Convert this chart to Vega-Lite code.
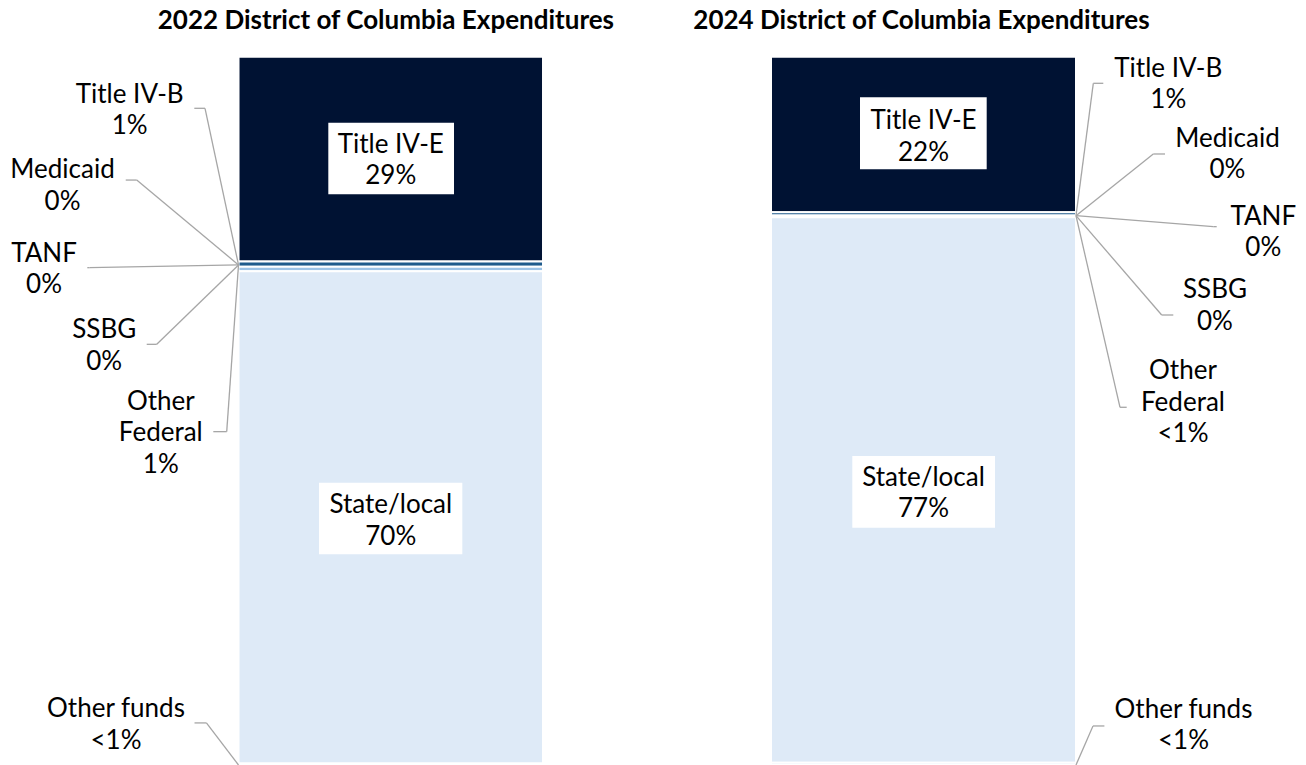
{
  "$schema": "https://vega.github.io/schema/vega-lite/v6.json",
  "padding": 0,
  "spacing": 0,
  "background": "white",
  "config": {"view": {"stroke": null}, "font": "Lato"},
  "datasets": {
    "segments": [
      {"year": "2022", "source": "Title IV-E", "rank": 8, "share": 0.289},
      {"year": "2022", "source": "Title IV-B", "rank": 7, "share": 0.0075},
      {"year": "2022", "source": "Medicaid", "rank": 6, "share": 0},
      {"year": "2022", "source": "TANF", "rank": 5, "share": 0},
      {"year": "2022", "source": "SSBG", "rank": 4, "share": 0},
      {"year": "2022", "source": "Other Federal", "rank": 3, "share": 0.0065},
      {"year": "2022", "source": "State/local", "rank": 2, "share": 0.695},
      {"year": "2022", "source": "Other funds", "rank": 1, "share": 0.002},
      {"year": "2024", "source": "Title IV-E", "rank": 8, "share": 0.2195},
      {"year": "2024", "source": "Title IV-B", "rank": 7, "share": 0.0048},
      {"year": "2024", "source": "Medicaid", "rank": 6, "share": 0},
      {"year": "2024", "source": "TANF", "rank": 5, "share": 0},
      {"year": "2024", "source": "SSBG", "rank": 4, "share": 0},
      {"year": "2024", "source": "Other Federal", "rank": 3, "share": 0.0025},
      {"year": "2024", "source": "State/local", "rank": 2, "share": 0.77},
      {"year": "2024", "source": "Other funds", "rank": 1, "share": 0.0032}
    ],
    "labels": [
      {"year": "2022", "txt": "Title IV-B\n1%", "ax": -0.3573, "ay": 0.935},
      {"year": "2022", "txt": "Medicaid\n0%", "ax": -0.578, "ay": 0.8283},
      {"year": "2022", "txt": "TANF\n0%", "ax": -0.6388, "ay": 0.7105},
      {"year": "2022", "txt": "SSBG\n0%", "ax": -0.4411, "ay": 0.6024},
      {"year": "2022", "txt": "Other\nFederal\n1%", "ax": -0.2552, "ay": 0.5012},
      {"year": "2022", "txt": "Other funds\n<1%", "ax": -0.4023, "ay": 0.0671},
      {"year": "2022", "txt": "Title IV-E\n29%", "ax": 0.5, "ay": 0.8644},
      {"year": "2022", "txt": "State/local\n70%", "ax": 0.5, "ay": 0.3553},
      {"year": "2024", "txt": "Title IV-B\n1%", "ax": 1.3026, "ay": 0.9717},
      {"year": "2024", "txt": "Medicaid\n0%", "ax": 1.4967, "ay": 0.8729},
      {"year": "2024", "txt": "TANF\n0%", "ax": 1.6141, "ay": 0.7624},
      {"year": "2024", "txt": "SSBG\n0%", "ax": 1.4557, "ay": 0.6589},
      {"year": "2024", "txt": "Other\nFederal\n<1%", "ax": 1.3508, "ay": 0.5449},
      {"year": "2024", "txt": "Other funds\n<1%", "ax": 1.3525, "ay": 0.0664},
      {"year": "2024", "txt": "Title IV-E\n22%", "ax": 0.5, "ay": 0.8975},
      {"year": "2024", "txt": "State/local\n77%", "ax": 0.5, "ay": 0.3939}
    ],
    "titles": [
      {"year": "2022", "txt": "2022 District of Columbia Expenditures", "ax": 0.484, "ay": 1.0386},
      {"year": "2024", "txt": "2024 District of Columbia Expenditures", "ax": 0.4934, "ay": 1.0386}
    ],
    "leaders": [
      {"year": "2022", "lx0": -0.1452, "lx1": -0.11, "ly": 0.9271, "jx": 0, "jy": 0.706},
      {"year": "2022", "lx0": -0.3704, "lx1": -0.3343, "ly": 0.8258, "jx": 0, "jy": 0.706},
      {"year": "2022", "lx0": -0.4966, "lx1": -0.49, "ly": 0.7021, "jx": 0, "jy": 0.706},
      {"year": "2022", "lx0": -0.3015, "lx1": -0.2685, "ly": 0.5939, "jx": 0, "jy": 0.706},
      {"year": "2022", "lx0": -0.0828, "lx1": -0.0388, "ly": 0.4706, "jx": 0, "jy": 0.706},
      {"year": "2022", "lx0": -0.1445, "lx1": -0.1054, "ly": 0.0594, "jx": 0, "jy": 0},
      {"year": "2024", "lx0": 1.0895, "lx1": 1.0567, "ly": 0.9624, "jx": 1, "jy": 0.7755},
      {"year": "2024", "lx0": 1.2918, "lx1": 1.2534, "ly": 0.8626, "jx": 1, "jy": 0.7755},
      {"year": "2024", "lx0": 1.4613, "lx1": 1.45, "ly": 0.76, "jx": 1, "jy": 0.7755},
      {"year": "2024", "lx0": 1.319, "lx1": 1.281, "ly": 0.6353, "jx": 1, "jy": 0.7755},
      {"year": "2024", "lx0": 1.1662, "lx1": 1.1443, "ly": 0.505, "jx": 1, "jy": 0.7755},
      {"year": "2024", "lx0": 1.0931, "lx1": 1.0557, "ly": 0.0551, "jx": 1, "jy": 0}
    ],
    "boxes": [
      {"year": "2022", "bx0": 0.2949, "bx1": 0.7077, "by0": 0.8057, "by1": 0.9068},
      {"year": "2022", "bx0": 0.2644, "bx1": 0.735, "by0": 0.2975, "by1": 0.3985},
      {"year": "2024", "bx0": 0.2918, "bx1": 0.7072, "by0": 0.841, "by1": 0.9426},
      {"year": "2024", "bx0": 0.2666, "bx1": 0.7344, "by0": 0.335, "by1": 0.4362}
    ]
  },
  "hconcat": [
    {
      "width": 653,
      "height": 765,
      "layer": [
        {
          "data": {"name": "segments"},
          "transform": [
            {"filter": "datum.year == '2022'"},
            {"stack": "share", "groupby": ["year"], "sort": [{"field": "rank", "order": "ascending"}], "as": ["s0", "s1"]},
            {"filter": "datum.share > 0"}
          ],
          "mark": {"type": "rect", "stroke": "white", "strokeWidth": 2},
          "encoding": {
            "x": {"datum": 0, "type": "quantitative", "scale": {"domain": [-0.7833, 1.3612], "nice": false, "zero": false}, "axis": null},
            "x2": {"datum": 1},
            "y": {"field": "s0", "type": "quantitative", "scale": {"domain": [0, 1.08], "nice": false, "zero": false}, "axis": null},
            "y2": {"field": "s1"},
            "color": {"field": "source", "type": "nominal", "legend": null,
              "scale": {"domain": ["Title IV-E", "Title IV-B", "Medicaid", "TANF", "SSBG", "Other Federal", "State/local", "Other funds"],
                        "range": ["#001233", "#1F5B8C", "#2E75B6", "#5B9BD5", "#7FAEDC", "#9DC3E6", "#DEEAF7", "#DEEAF7"]}}
          }
        },
        {
          "data": {"name": "boxes"},
          "transform": [{"filter": "datum.year == '2022'"}],
          "mark": {"type": "rect", "fill": "white"},
          "encoding": {
            "x": {"field": "bx0", "type": "quantitative", "scale": {"domain": [-0.7833, 1.3612], "nice": false, "zero": false}, "axis": null},
            "x2": {"field": "bx1"},
            "y": {"field": "by0", "type": "quantitative", "scale": {"domain": [0, 1.08], "nice": false, "zero": false}, "axis": null},
            "y2": {"field": "by1"}
          }
        },
        {
          "data": {"name": "leaders"},
          "transform": [{"filter": "datum.year == '2022'"}],
          "mark": {"type": "rule", "color": "#A6A6A6", "strokeWidth": 1.3},
          "encoding": {
            "x": {"field": "lx0", "type": "quantitative", "scale": {"domain": [-0.7833, 1.3612], "nice": false, "zero": false}, "axis": null},
            "x2": {"field": "lx1"},
            "y": {"field": "ly", "type": "quantitative", "scale": {"domain": [0, 1.08], "nice": false, "zero": false}, "axis": null},
            "y2": {"field": "ly"}
          }
        },
        {
          "data": {"name": "leaders"},
          "transform": [{"filter": "datum.year == '2022'"}],
          "mark": {"type": "rule", "color": "#A6A6A6", "strokeWidth": 1.3},
          "encoding": {
            "x": {"field": "lx1", "type": "quantitative", "scale": {"domain": [-0.7833, 1.3612], "nice": false, "zero": false}, "axis": null},
            "x2": {"field": "jx"},
            "y": {"field": "ly", "type": "quantitative", "scale": {"domain": [0, 1.08], "nice": false, "zero": false}, "axis": null},
            "y2": {"field": "jy"}
          }
        },
        {
          "data": {"name": "labels"},
          "transform": [{"filter": "datum.year == '2022'"}],
          "mark": {"type": "text", "font": "Lato", "fontSize": 26, "lineHeight": 31.5, "lineBreak": "\n", "align": "center", "baseline": "alphabetic", "color": "black"},
          "encoding": {
            "x": {"field": "ax", "type": "quantitative", "scale": {"domain": [-0.7833, 1.3612], "nice": false, "zero": false}, "axis": null},
            "y": {"field": "ay", "type": "quantitative", "scale": {"domain": [0, 1.08], "nice": false, "zero": false}, "axis": null},
            "text": {"field": "txt"}
          }
        },
        {
          "data": {"name": "titles"},
          "transform": [{"filter": "datum.year == '2022'"}],
          "mark": {"type": "text", "font": "Lato", "fontSize": 26, "fontWeight": "bold", "align": "center", "baseline": "alphabetic", "color": "black"},
          "encoding": {
            "x": {"field": "ax", "type": "quantitative", "scale": {"domain": [-0.7833, 1.3612], "nice": false, "zero": false}, "axis": null},
            "y": {"field": "ay", "type": "quantitative", "scale": {"domain": [0, 1.08], "nice": false, "zero": false}, "axis": null},
            "text": {"field": "txt"}
          }
        }
      ]
    },
    {
      "width": 653,
      "height": 765,
      "layer": [
        {
          "data": {"name": "segments"},
          "transform": [
            {"filter": "datum.year == '2024'"},
            {"stack": "share", "groupby": ["year"], "sort": [{"field": "rank", "order": "ascending"}], "as": ["s0", "s1"]},
            {"filter": "datum.share > 0"}
          ],
          "mark": {"type": "rect", "stroke": "white", "strokeWidth": 2},
          "encoding": {
            "x": {"datum": 0, "type": "quantitative", "scale": {"domain": [-0.3869, 1.7541], "nice": false, "zero": false}, "axis": null},
            "x2": {"datum": 1},
            "y": {"field": "s0", "type": "quantitative", "scale": {"domain": [0, 1.08], "nice": false, "zero": false}, "axis": null},
            "y2": {"field": "s1"},
            "color": {"field": "source", "type": "nominal", "legend": null,
              "scale": {"domain": ["Title IV-E", "Title IV-B", "Medicaid", "TANF", "SSBG", "Other Federal", "State/local", "Other funds"],
                        "range": ["#001233", "#1F5B8C", "#2E75B6", "#5B9BD5", "#7FAEDC", "#9DC3E6", "#DEEAF7", "#DEEAF7"]}}
          }
        },
        {
          "data": {"name": "boxes"},
          "transform": [{"filter": "datum.year == '2024'"}],
          "mark": {"type": "rect", "fill": "white"},
          "encoding": {
            "x": {"field": "bx0", "type": "quantitative", "scale": {"domain": [-0.3869, 1.7541], "nice": false, "zero": false}, "axis": null},
            "x2": {"field": "bx1"},
            "y": {"field": "by0", "type": "quantitative", "scale": {"domain": [0, 1.08], "nice": false, "zero": false}, "axis": null},
            "y2": {"field": "by1"}
          }
        },
        {
          "data": {"name": "leaders"},
          "transform": [{"filter": "datum.year == '2024'"}],
          "mark": {"type": "rule", "color": "#A6A6A6", "strokeWidth": 1.3},
          "encoding": {
            "x": {"field": "lx0", "type": "quantitative", "scale": {"domain": [-0.3869, 1.7541], "nice": false, "zero": false}, "axis": null},
            "x2": {"field": "lx1"},
            "y": {"field": "ly", "type": "quantitative", "scale": {"domain": [0, 1.08], "nice": false, "zero": false}, "axis": null},
            "y2": {"field": "ly"}
          }
        },
        {
          "data": {"name": "leaders"},
          "transform": [{"filter": "datum.year == '2024'"}],
          "mark": {"type": "rule", "color": "#A6A6A6", "strokeWidth": 1.3},
          "encoding": {
            "x": {"field": "lx1", "type": "quantitative", "scale": {"domain": [-0.3869, 1.7541], "nice": false, "zero": false}, "axis": null},
            "x2": {"field": "jx"},
            "y": {"field": "ly", "type": "quantitative", "scale": {"domain": [0, 1.08], "nice": false, "zero": false}, "axis": null},
            "y2": {"field": "jy"}
          }
        },
        {
          "data": {"name": "labels"},
          "transform": [{"filter": "datum.year == '2024'"}],
          "mark": {"type": "text", "font": "Lato", "fontSize": 26, "lineHeight": 31.5, "lineBreak": "\n", "align": "center", "baseline": "alphabetic", "color": "black"},
          "encoding": {
            "x": {"field": "ax", "type": "quantitative", "scale": {"domain": [-0.3869, 1.7541], "nice": false, "zero": false}, "axis": null},
            "y": {"field": "ay", "type": "quantitative", "scale": {"domain": [0, 1.08], "nice": false, "zero": false}, "axis": null},
            "text": {"field": "txt"}
          }
        },
        {
          "data": {"name": "titles"},
          "transform": [{"filter": "datum.year == '2024'"}],
          "mark": {"type": "text", "font": "Lato", "fontSize": 26, "fontWeight": "bold", "align": "center", "baseline": "alphabetic", "color": "black"},
          "encoding": {
            "x": {"field": "ax", "type": "quantitative", "scale": {"domain": [-0.3869, 1.7541], "nice": false, "zero": false}, "axis": null},
            "y": {"field": "ay", "type": "quantitative", "scale": {"domain": [0, 1.08], "nice": false, "zero": false}, "axis": null},
            "text": {"field": "txt"}
          }
        }
      ]
    }
  ]
}
